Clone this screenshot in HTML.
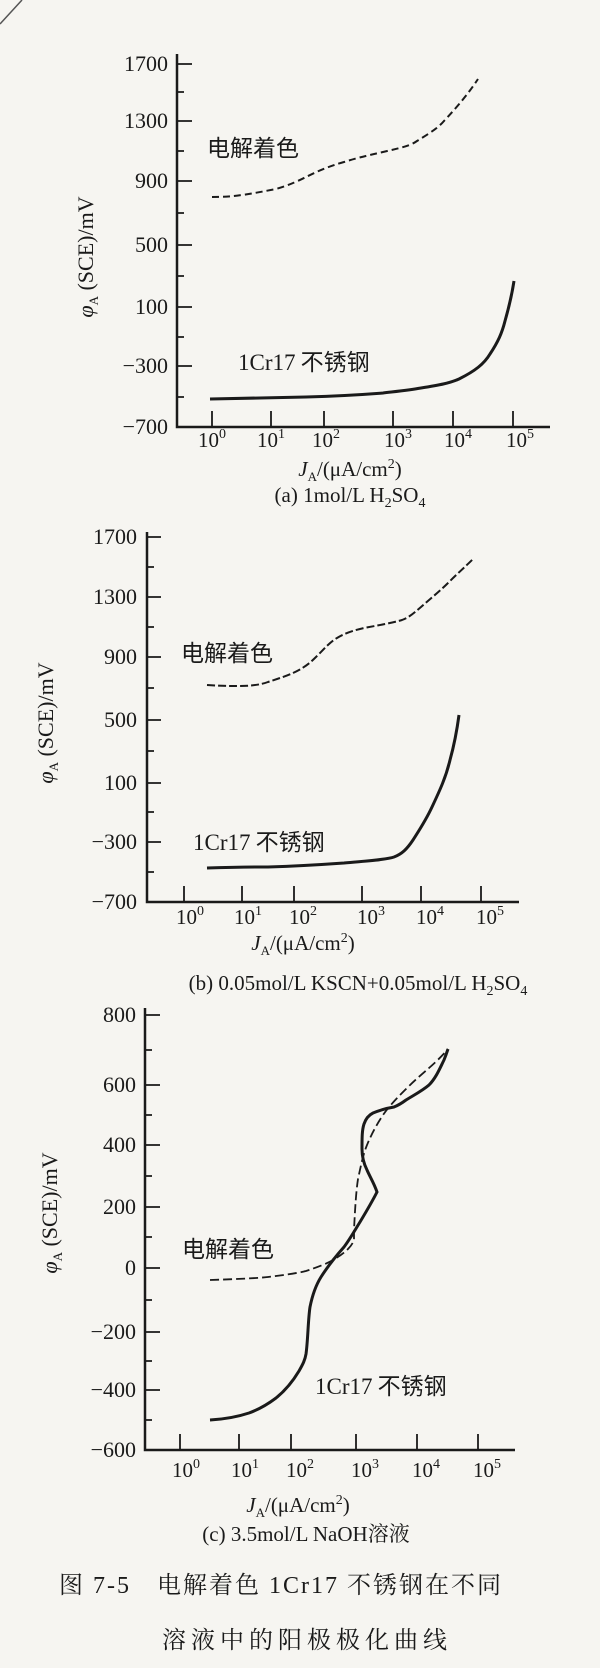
<!DOCTYPE html>
<html><head><meta charset="utf-8"><style>
html,body{margin:0;padding:0;background:#f6f5f1;}
svg{display:block;}
text{font-family:"Liberation Serif","Noto Serif CJK SC",serif;fill:#1a1a1a;}
.cj{font-family:"Liberation Sans","Noto Sans CJK SC",sans-serif;}
</style></head><body>
<svg width="600" height="1668" viewBox="0 0 600 1668" xmlns="http://www.w3.org/2000/svg">
<rect width="600" height="1668" fill="#f6f5f1"/>
<path d="M0 24 L22 0" stroke="#555" stroke-width="1.5" fill="none"/>
<g stroke="#1a1a1a" fill="none">
<path d="M177 54 V427 H550" stroke-width="2.5"/>
<path d="M177 64 H192 M177 121 H192 M177 181 H192 M177 245 H192 M177 307 H192 M177 366 H192 M177 92 H184 M177 151 H184 M177 213 H184 M177 276 H184 M177 337 H184 M177 397 H184" stroke-width="1.8"/>
<path d="M212 427 V411 M271 427 V411 M324 427 V411 M393 427 V411 M453 427 V411 M513 427 V411" stroke-width="1.8"/>
<path d="M212 197 C230 197 240 196 276 189 C290 185 300 180 306 177 C320 170 330 166 344 162 C360 157 370 155 383 152 C400 148 410 146 417 141 C430 133 438 128 444 121 C458 106 468 94 478 79" stroke-width="2" stroke-dasharray="7,4"/>
<path d="M210 399 C260 398 300 397 306 397 C340 396 370 394 383 393 C400 391 410 390 421 388 C440 385 450 383 459 379 C475 371 484 364 490 354 C498 342 502 333 505 321 C509 307 512 294 514 281" stroke-width="3"/>
<path d="M147 532 V902 H519" stroke-width="2.5"/>
<path d="M147 537 H161 M147 597 H161 M147 657 H161 M147 720 H161 M147 783 H161 M147 842 H161 M147 567 H154 M147 627 H154 M147 688 H154 M147 751 H154 M147 812 H154 M147 872 H154" stroke-width="1.8"/>
<path d="M184 902 V886 M242 902 V886 M294 902 V886 M362 902 V886 M421 902 V886 M481 902 V886" stroke-width="1.8"/>
<path d="M207 685 C220 686 230 686 237 686 C250 686 260 685 268 682 C280 678 290 675 299 670 C308 665 312 661 318 655 C325 648 330 642 337 638 C345 633 355 630 364 628 C380 625 392 623 402 620 C410 617 415 612 421 607 C430 599 440 591 448 583 C458 573 466 566 473 559" stroke-width="2" stroke-dasharray="8,3"/>
<path d="M207 868 C240 867 260 867 268 867 C300 866 330 864 344 863 C365 861 385 860 394 857 C402 854 407 849 413 840 C420 829 426 820 432 807 C440 790 446 777 450 760 C455 742 457 730 459 715" stroke-width="3"/>
<path d="M145 1008 V1450 H515" stroke-width="2.5"/>
<path d="M145 1015 H160 M145 1085 H160 M145 1145 H160 M145 1207 H160 M145 1268 H160 M145 1332 H160 M145 1390 H160 M145 1050 H152 M145 1115 H152 M145 1176 H152 M145 1237 H152 M145 1300 H152 M145 1361 H152 M145 1420 H152" stroke-width="1.8"/>
<path d="M180 1450 V1434 M239 1450 V1434 M291 1450 V1434 M356 1450 V1434 M417 1450 V1434 M478 1450 V1434" stroke-width="1.8"/>
<path d="M210 1280 C240 1279 260 1278 268 1277 C285 1275 298 1273 306 1271 C318 1267 326 1264 333 1260 C340 1256 345 1252 348 1249 C352 1245 354 1241 354 1239 L354 1230 C355 1210 356 1192 358 1179 C361 1165 363 1155 367 1145 C372 1133 377 1124 383 1115 C390 1105 398 1097 406 1089 C414 1081 422 1074 429 1068 C437 1061 443 1055 448 1049" stroke-width="1.8" stroke-dasharray="9,4"/>
<path d="M210 1420 C228 1419 240 1416 249 1413 C260 1409 268 1404 276 1398 C286 1390 293 1381 299 1371 C303 1364 305 1360 306 1354 C308 1340 308 1320 310 1307 C312 1297 316 1285 321 1277 C328 1266 336 1256 344 1247 C350 1239 355 1230 360 1222 C366 1212 372 1202 377 1192 C374 1183 370 1177 367 1170 C363 1162 362 1156 362 1149 C362 1138 362 1130 364 1124 C366 1118 369 1115 373 1113 C380 1110 388 1108 394 1107 C399 1105 402 1103 406 1100 C414 1095 422 1091 429 1085 C436 1078 440 1068 444 1060 C446 1055 447 1052 448 1049" stroke-width="3"/>
</g>
<g font-size="22" text-anchor="end">
<text x="168" y="71">1700</text><text x="168" y="128">1300</text><text x="168" y="188">900</text><text x="168" y="252">500</text><text x="168" y="314">100</text><text x="168" y="373">−300</text><text x="168" y="434">−700</text>
<text x="137" y="544">1700</text><text x="137" y="604">1300</text><text x="137" y="664">900</text><text x="137" y="727">500</text><text x="137" y="790">100</text><text x="137" y="849">−300</text><text x="137" y="909">−700</text>
<text x="136" y="1022">800</text><text x="136" y="1092">600</text><text x="136" y="1152">400</text><text x="136" y="1214">200</text><text x="136" y="1275">0</text><text x="136" y="1339">−200</text><text x="136" y="1397">−400</text><text x="136" y="1457">−600</text>
</g>
<g font-size="21" text-anchor="middle">
<text x="212" y="447">10<tspan dy="-9" font-size="14">0</tspan></text>
<text x="271" y="447">10<tspan dy="-9" font-size="14">1</tspan></text>
<text x="326" y="447">10<tspan dy="-9" font-size="14">2</tspan></text>
<text x="398" y="447">10<tspan dy="-9" font-size="14">3</tspan></text>
<text x="458" y="447">10<tspan dy="-9" font-size="14">4</tspan></text>
<text x="520" y="447">10<tspan dy="-9" font-size="14">5</tspan></text>
<text x="190" y="924">10<tspan dy="-9" font-size="14">0</tspan></text>
<text x="248" y="924">10<tspan dy="-9" font-size="14">1</tspan></text>
<text x="303" y="924">10<tspan dy="-9" font-size="14">2</tspan></text>
<text x="371" y="924">10<tspan dy="-9" font-size="14">3</tspan></text>
<text x="430" y="924">10<tspan dy="-9" font-size="14">4</tspan></text>
<text x="490" y="924">10<tspan dy="-9" font-size="14">5</tspan></text>
<text x="186" y="1477">10<tspan dy="-9" font-size="14">0</tspan></text>
<text x="245" y="1477">10<tspan dy="-9" font-size="14">1</tspan></text>
<text x="300" y="1477">10<tspan dy="-9" font-size="14">2</tspan></text>
<text x="365" y="1477">10<tspan dy="-9" font-size="14">3</tspan></text>
<text x="426" y="1477">10<tspan dy="-9" font-size="14">4</tspan></text>
<text x="487" y="1477">10<tspan dy="-9" font-size="14">5</tspan></text>
</g>
<g font-size="21" text-anchor="middle">
<text x="350" y="476"><tspan font-style="italic">J</tspan><tspan font-size="13" dy="5">A</tspan><tspan dy="-5">/(μA/cm</tspan><tspan font-size="14" dy="-8">2</tspan><tspan dy="8">)</tspan></text>
<text x="350" y="502">(a)  1mol/L H<tspan font-size="14" dy="5">2</tspan><tspan dy="-5">SO</tspan><tspan font-size="14" dy="5">4</tspan></text>
<text x="303" y="950"><tspan font-style="italic">J</tspan><tspan font-size="13" dy="5">A</tspan><tspan dy="-5">/(μA/cm</tspan><tspan font-size="14" dy="-8">2</tspan><tspan dy="8">)</tspan></text>
<text x="358" y="990">(b)  0.05mol/L KSCN+0.05mol/L H<tspan font-size="14" dy="5">2</tspan><tspan dy="-5">SO</tspan><tspan font-size="14" dy="5">4</tspan></text>
<text x="298" y="1512"><tspan font-style="italic">J</tspan><tspan font-size="13" dy="5">A</tspan><tspan dy="-5">/(μA/cm</tspan><tspan font-size="14" dy="-8">2</tspan><tspan dy="8">)</tspan></text>
<text x="306" y="1541">(c) 3.5mol/L NaOH溶液</text>
</g>
<g font-size="22" text-anchor="middle">
<text transform="translate(93,257) rotate(-90)"><tspan font-style="italic">φ</tspan><tspan font-size="13" dy="5">A</tspan><tspan dy="-5"> (SCE)/mV</tspan></text>
<text transform="translate(53,723) rotate(-90)"><tspan font-style="italic">φ</tspan><tspan font-size="13" dy="5">A</tspan><tspan dy="-5"> (SCE)/mV</tspan></text>
<text transform="translate(57,1213) rotate(-90)"><tspan font-style="italic">φ</tspan><tspan font-size="13" dy="5">A</tspan><tspan dy="-5"> (SCE)/mV</tspan></text>
</g>
<g class="cj" font-size="23">
<text class="cj" x="207" y="156">电解着色</text>
<text x="238" y="370" font-family="Liberation Serif, Noto Sans CJK SC, serif">1Cr17<tspan font-family="Noto Sans CJK SC, sans-serif"> 不锈钢</tspan></text>
<text class="cj" x="181" y="661">电解着色</text>
<text x="193" y="850" font-family="Liberation Serif, Noto Sans CJK SC, serif">1Cr17<tspan font-family="Noto Sans CJK SC, sans-serif"> 不锈钢</tspan></text>
<text class="cj" x="182" y="1257">电解着色</text>
<text x="315" y="1394" font-family="Liberation Serif, Noto Sans CJK SC, serif">1Cr17<tspan font-family="Noto Sans CJK SC, sans-serif"> 不锈钢</tspan></text>
</g>
<g font-size="24" font-family="Liberation Serif, Noto Serif CJK SC, serif">
<text x="59" y="1593" letter-spacing="2">图 7-5　电解着色 1Cr17 不锈钢在不同</text>
<text x="162" y="1648" letter-spacing="5">溶液中的阳极极化曲线</text>
</g>
</svg>
</body></html>
